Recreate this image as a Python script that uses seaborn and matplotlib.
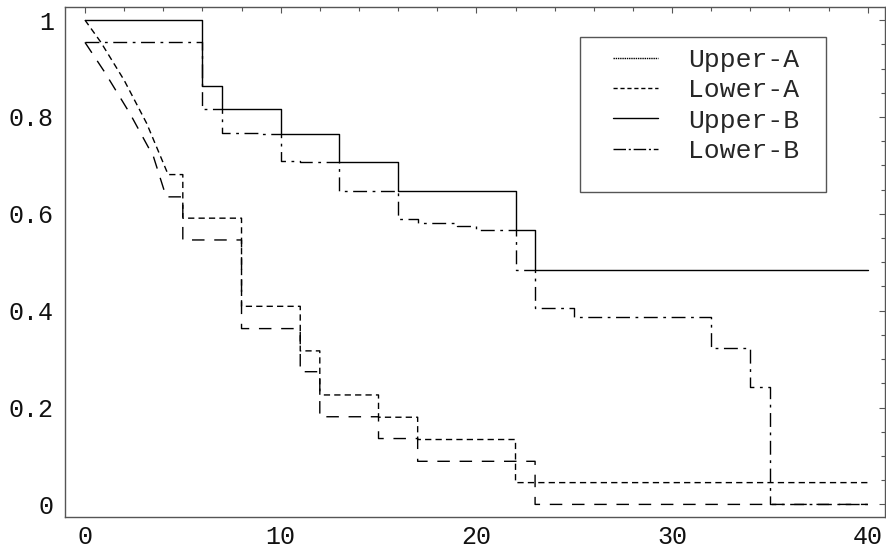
import numpy as np
import pandas as pd
import matplotlib
matplotlib.use("Agg")
import matplotlib.pyplot as plt
import seaborn as sns
from matplotlib.lines import Line2D
from matplotlib.patches import Rectangle
from matplotlib.ticker import MultipleLocator, FixedLocator, FixedFormatter

# --- data ------------------------------------------------------------------
# A curves: a sloped start, then steps
upper_a_curve_x = [0, 0.8, 2.0, 3.15, 4.25]
upper_a_curve_y = [1.0, 0.955, 0.876, 0.787, 0.681]
upper_a_times = [5, 8, 11, 12, 15, 17, 22, 40]
upper_a_surv = [0.591, 0.409, 0.317, 0.226, 0.180, 0.134, 0.045, 0.045]

lower_a_curve_x = [0, 1.0, 2.3, 3.5, 4.15]
lower_a_curve_y = [0.954, 0.893, 0.807, 0.718, 0.635]
lower_a_times = [5, 8, 11, 12, 15, 17, 23, 40]
lower_a_surv = [0.546, 0.363, 0.274, 0.181, 0.136, 0.089, 0.0, 0.0]

# B curves: pure step functions
upper_b_start = 1.0
upper_b_times = [6, 7, 10, 13, 16, 22, 23, 40]
upper_b_surv = [0.864, 0.816, 0.764, 0.706, 0.648, 0.566, 0.485, 0.485]

lower_b_start = 0.954
lower_b_times = [6, 7, 9, 10, 11, 13, 16, 17, 19, 20, 22, 23, 25, 32, 34, 35, 40]
lower_b_surv = [0.816, 0.767, 0.764, 0.7095, 0.706, 0.648, 0.589, 0.582, 0.575,
                0.566, 0.485, 0.405, 0.387, 0.323, 0.242, 0.0, 0.0]

labels = ["Upper-A", "Lower-A", "Upper-B", "Lower-B"]
x_ticks = [0, 10, 20, 30, 40]
y_ticks = [0, 0.2, 0.4, 0.6, 0.8, 1.0]
y_ticklabels = ["0", "0.2", "0.4", "0.6", "0.8", "1"]


def step_path(x0, y0, times, surv):
    """Turn a start point plus step times/levels into polyline vertices."""
    xs, ys = [x0], [y0]
    prev = y0
    for t, s in zip(times, surv):
        xs += [t, t]
        ys += [prev, s]
        prev = s
    return xs, ys


def curve_then_steps(cx, cy, times, surv):
    xs, ys = step_path(cx[-1], cy[-1], times, surv)
    return list(cx[:-1]) + xs, list(cy[:-1]) + ys


series = {
    "Upper-A": curve_then_steps(upper_a_curve_x, upper_a_curve_y, upper_a_times, upper_a_surv),
    "Lower-A": curve_then_steps(lower_a_curve_x, lower_a_curve_y, lower_a_times, lower_a_surv),
    "Upper-B": step_path(0, upper_b_start, upper_b_times, upper_b_surv),
    "Lower-B": step_path(0, lower_b_start, lower_b_times, lower_b_surv),
}

plot_dashes = {
    "Upper-A": (0, (4.5, 3)),
    "Lower-A": (0, (9, 7)),
    "Upper-B": "-",
    "Lower-B": (0, (10, 4, 2, 4)),
}
legend_dashes = {
    "Upper-A": (0, (1, 0.6)),
    "Lower-A": (0, (3, 2)),
    "Upper-B": "-",
    "Lower-B": (0, (9, 2, 1.5, 2)),
}

# --- figure -------------------------------------------------------------------
sns.set_style("white")
plt.rcParams["font.family"] = ["Liberation Mono", "DejaVu Sans Mono"]

W, H = 886, 550
fig = plt.figure(figsize=(W / 100, H / 100), dpi=100)
ax = fig.add_axes([65 / W, 1 - 517 / H, (885 - 65) / W, (517 - 7) / H])

for name in labels:
    xs, ys = series[name]
    df = pd.DataFrame({"t": xs, "s": ys})
    sns.lineplot(data=df, x="t", y="s", ax=ax, sort=False, estimator=None,
                 color="black", linewidth=1.0, linestyle=plot_dashes[name])

ax.set_xlim(-1.02, 40.88)
ax.set_ylim(-0.026, 1.027)
ax.set_xlabel("")
ax.set_ylabel("")

ax.xaxis.set_major_locator(FixedLocator(x_ticks))
ax.xaxis.set_minor_locator(MultipleLocator(2))
ax.yaxis.set_major_locator(FixedLocator(y_ticks))
ax.yaxis.set_major_formatter(FixedFormatter(y_ticklabels))
ax.yaxis.set_minor_locator(MultipleLocator(0.05))

frame_color = "#555555"
for sp in ax.spines.values():
    sp.set_color(frame_color)
    sp.set_linewidth(1.0)

ax.tick_params(which="both", direction="in", top=True, right=True,
               color=frame_color, width=0.8, labelsize=18, labelcolor="#111111")
ax.tick_params(which="major", length=4.5)
ax.tick_params(which="minor", length=3)
ax.tick_params(axis="y", pad=8)
ax.tick_params(axis="x", pad=6)

# legend box drawn separately (the reference has more room below the rows)
box_l, box_r, box_t, box_b = 580, 826, 37, 192
box = Rectangle((box_l / W, 1 - box_b / H), (box_r - box_l) / W, (box_b - box_t) / H,
                transform=fig.transFigure, facecolor="white", edgecolor=frame_color,
                linewidth=1.0, zorder=4, clip_on=False)
ax.add_patch(box)

handles = [Line2D([], [], color="black", linewidth=1.0, linestyle=legend_dashes[n])
           for n in labels]
leg = ax.legend(handles, labels, loc="upper left",
                bbox_to_anchor=(613 / W, 1 - 48 / H), bbox_transform=fig.transFigure,
                borderaxespad=0, fontsize=19, handlelength=1.7, handletextpad=1.15,
                labelspacing=0.24, borderpad=0, frameon=False)
leg.set_zorder(6)

fig.savefig("out.png", dpi=100)
